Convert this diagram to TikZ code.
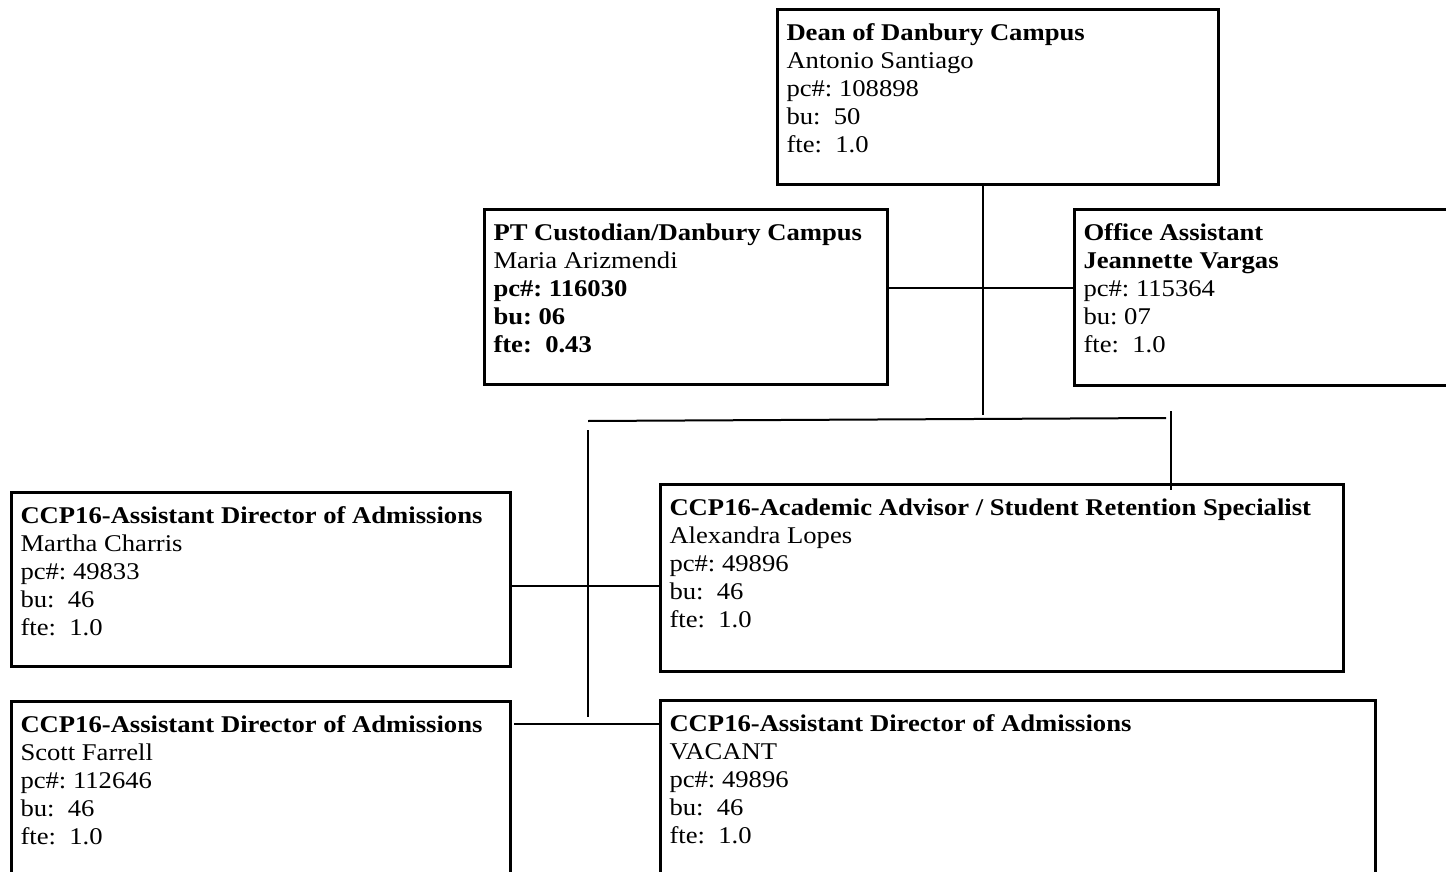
\documentclass[tikz,border=0pt]{standalone}
\usepackage{fontspec}
\setmainfont{Liberation Serif}[FakeStretch=1.11]
\usetikzlibrary{positioning}
\frenchspacing

\newcommand{\postbox}[3]{\parbox[c][#2][t]{#1}{#3}}

\begin{document}
\begin{tikzpicture}
          [x=0.5pt, y=-0.5pt,
           post/.style={draw, line width=1.5pt, anchor=north west, inner xsep=4.5pt, inner ysep=7pt,
                        font=\fontsize{12pt}{14pt}\selectfont},
           link/.style={line width=1pt}]
          \useasboundingbox (0,0) rectangle (1446,872);
          \clip (0,0) rectangle (1446,872);

          \node (dean) [post] at (776,8) {\postbox{211.5pt}{73.5pt}{\textbf{Dean of Danbury Campus}\\ Antonio Santiago\\ pc\#: 108898\\ bu:~ 50\\ fte:~ 1.0}};
          \node (cust) [post] at (483,208) {\postbox{192.5pt}{73.5pt}{\textbf{PT Custodian/Danbury Campus}\\ Maria Arizmendi\\ \textbf{pc\#: 116030}\\ \textbf{bu: 06}\\ \textbf{fte:~ 0.43}}};
          \node (office) [post] at (1073,208) {\postbox{201pt}{74pt}{\textbf{Office Assistant}\\ \textbf{Jeannette Vargas}\\ pc\#: 115364\\ bu: 07\\ fte:~ 1.0}};

          \node (martha) [post] at (10,491) {\postbox{240.5pt}{73pt}{\textbf{CCP16-Assistant Director of Admissions}\\ Martha Charris\\ pc\#: 49833\\ bu:~ 46\\ fte:~ 1.0}};
          \node (acad) [post] at (659,483) {\postbox{332.5pt}{79.5pt}{\textbf{CCP16-Academic Advisor / Student Retention Specialist}\\ Alexandra Lopes\\ pc\#: 49896\\ bu:~ 46\\ fte:~ 1.0}};
          \node (scott) [post] at (10,700) {\postbox{240.5pt}{86pt}{\textbf{CCP16-Assistant Director of Admissions}\\ Scott Farrell\\ pc\#: 112646\\ bu:~ 46\\ fte:~ 1.0}};
          \node (vacant) [post] at (659,699) {\postbox{348.5pt}{86pt}{\textbf{CCP16-Assistant Director of Admissions}\\ VACANT\\ pc\#: 49896\\ bu:~ 46\\ fte:~ 1.0}};

          \coordinate (hub) at (983,415);
          \coordinate (mid) at (983,288);
          \coordinate (busl) at (588,421);
          \coordinate (busr) at (1166,418);
          \coordinate (drop) at (1171,411);
          \coordinate (spine) at (588,430);
          \coordinate (spinebot) at (588,717);
          \coordinate (row1) at (588,586);
          \coordinate (row2) at (514,724);

          \draw[link, line width=1.3pt] (dean.south -| hub) -- (hub);
          \draw[link] (cust.east |- mid) -- (office.west |- mid);
          \draw[link] (busl) -- (busr);
          \draw[link] (drop) -- ([yshift=-3.5pt]acad.north -| drop);
          \draw[link] (spine) -- (spinebot);
          \draw[link] (martha.east |- row1) -- (acad.west |- row1);
          \draw[link] (row2) -- (vacant.west |- row2);

        \end{tikzpicture}
\end{document}
